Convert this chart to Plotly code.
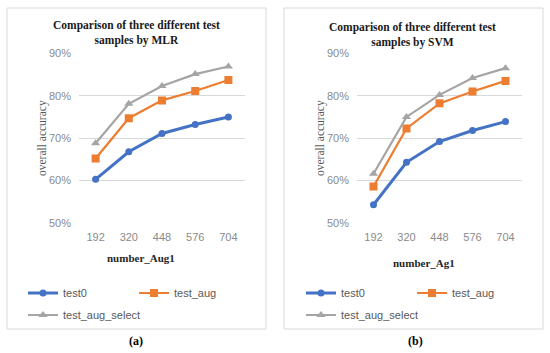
import plotly.graph_objects as go

categories = ["192", "320", "448", "576", "704"]
series_names = ["test0", "test_aug", "test_aug_select"]
mlr_test0 = [60.3, 66.8, 71.1, 73.2, 75.0]
mlr_test_aug = [65.2, 74.7, 78.9, 81.1, 83.7]
mlr_test_aug_select = [68.8, 78.1, 82.3, 85.1, 86.9]
svm_test0 = [54.3, 64.3, 69.2, 71.8, 73.9]
svm_test_aug = [58.6, 72.3, 78.2, 81.0, 83.5]
svm_test_aug_select = [61.6, 75.0, 80.2, 84.2, 86.5]
y_ticks = [50, 60, 70, 80, 90]
y_tick_labels = ["50%", "60%", "70%", "80%", "90%"]

W, H = 550, 353
def px(x): return x / W
def py(y): return 1 - y / H

colors = ["#4472C4", "#ED7D31", "#A5A5A5"]
symbols = ["circle", "square", "triangle-up"]
msizes = [7, 8, 8]
lwidths = [3, 2.2, 2.2]

fig = go.Figure()

panels = [
    dict(xa="x", ya="y", data=[mlr_test0, mlr_test_aug, mlr_test_aug_select], leg=0),
    dict(xa="x2", ya="y2", data=[svm_test0, svm_test_aug, svm_test_aug_select], leg=3),
]
for p in panels:
    for i, (name, vals) in enumerate(zip(series_names, p["data"])):
        li = p["leg"] + i + 1
        fig.add_trace(go.Scatter(
            x=categories, y=vals, name=name, mode="lines+markers",
            xaxis=p["xa"], yaxis=p["ya"],
            line=dict(color=colors[i], width=lwidths[i]),
            marker=dict(color=colors[i], symbol=symbols[i], size=msizes[i]),
            legend="legend" if li == 1 else f"legend{li}",
        ))

tickfont = dict(family="Liberation Sans", size=11, color="#8a8a8a")
yax = dict(range=[50, 90], tickvals=y_ticks, ticktext=y_tick_labels, showgrid=True,
           gridcolor="#d9d9d9", gridwidth=1, zeroline=False, showline=False,
           ticks="", tickfont=tickfont, ticklabelstandoff=7)
xax = dict(type="category", range=[-0.5, 4.5], showgrid=False, zeroline=False,
           showline=False, ticks="", tickfont=tickfont, ticklabelstandoff=6)

fig.update_layout(
    width=W, height=H, margin=dict(l=0, r=0, t=0, b=0, autoexpand=False),
    paper_bgcolor="white", plot_bgcolor="white", showlegend=True,
    xaxis=dict(domain=[px(79), px(245)], anchor="y", **xax),
    yaxis=dict(domain=[py(223), py(53.3)], anchor="x", **yax),
    xaxis2=dict(domain=[px(357), px(522)], anchor="y2", **xax),
    yaxis2=dict(domain=[py(223), py(53.3)], anchor="x2", **yax),
)

legfont = dict(family="Liberation Sans", size=11, color="#595959")
leg_pos = [(23, 293), (134, 293), (23, 315), (301, 293), (412, 293), (301, 315)]
for k, (lx, ly) in enumerate(leg_pos):
    key = "legend" if k == 0 else f"legend{k+1}"
    fig.update_layout({key: dict(x=px(lx), y=py(ly), xanchor="left", yanchor="middle",
                                 orientation="h", font=legfont, bgcolor="rgba(0,0,0,0)",
                                 itemwidth=30, borderwidth=0)})

shapes = []
for (x0, x1) in [(7, 266), (284, 543)]:
    shapes.append(dict(type="rect", xref="paper", yref="paper", x0=px(x0), x1=px(x1),
                       y0=py(329), y1=py(8), line=dict(color="#d9d9d9", width=1)))
fig.update_layout(shapes=shapes)

serif = "Liberation Serif"
ann = []
ann.append(dict(text="<b>Comparison of three different test<br>samples by MLR</b>",
                x=px(136), y=py(33.5), font=dict(family=serif, size=11.5, color="#1a1a1a")))
ann.append(dict(text="<b>Comparison of three different test<br>samples by SVM</b>",
                x=px(412), y=py(35), font=dict(family=serif, size=11.5, color="#1a1a1a")))
ann.append(dict(text="overall accuracy", x=px(42), y=py(138), textangle=-90,
                font=dict(family=serif, size=11.5, color="#595959")))
ann.append(dict(text="overall accuracy", x=px(320), y=py(138), textangle=-90,
                font=dict(family=serif, size=11.5, color="#595959")))
ann.append(dict(text="<b>number_Aug1</b>", x=px(141), y=py(258),
                font=dict(family=serif, size=11, color="#262626")))
ann.append(dict(text="<b>number_Ag1</b>", x=px(424), y=py(263),
                font=dict(family=serif, size=11, color="#262626")))
ann.append(dict(text="<b>(a)</b>", x=px(136), y=py(341),
                font=dict(family=serif, size=12, color="black")))
ann.append(dict(text="<b>(b)</b>", x=px(415), y=py(341),
                font=dict(family=serif, size=12, color="black")))
for a in ann:
    a.update(xref="paper", yref="paper", showarrow=False, xanchor="center", yanchor="middle")
fig.update_layout(annotations=ann)

fig.write_html("out.html", config={"displayModeBar": False},
               post_script="document.body.style.margin='0';")
